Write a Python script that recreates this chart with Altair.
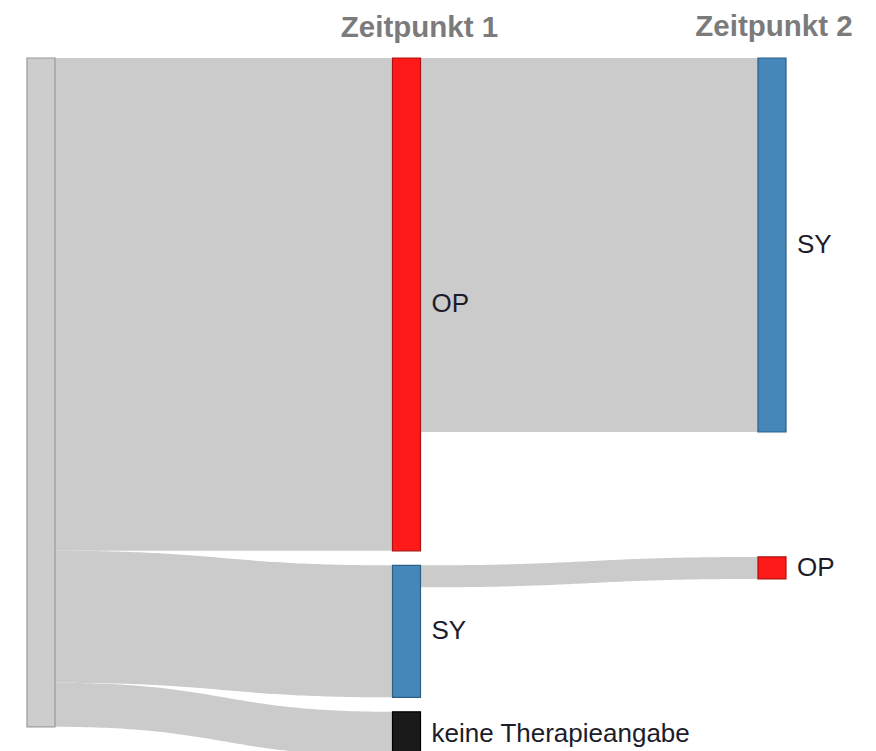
import altair as alt
import pandas as pd
import numpy as np

# ---------------- data ----------------
stage_titles = ["Zeitpunkt 1", "Zeitpunkt 2"]
title_stage = [1, 2]

node_ids = ["start", "t1_op", "t1_sy", "t1_none", "t2_sy", "t2_op"]
node_labels = ["", "OP", "SY", "keine Therapieangabe", "SY", "OP"]
node_stage = [0, 1, 1, 1, 2, 2]
node_colors = ["#cdcdcd", "#ff1a1a", "#4587b8", "#1a1a1a", "#4587b8", "#ff1a1a"]
node_strokes = ["#9a9a9a", "#b01010", "#2c5f85", "#000000", "#2c5f85", "#b01010"]

link_source = ["start", "start", "start", "t1_op", "t1_sy"]
link_target = ["t1_op", "t1_sy", "t1_none", "t2_sy", "t2_op"]
link_value = [112, 30, 10, 85, 5]

# ---------------- layout parameters ----------------
W, H = 860, 743
PX_PER_UNIT = 4.4
TOP_PX = 50            # distance of node tops from plot top
STAGE_PX = 365.5       # horizontal distance between stages
LEFT_PX = 19
NODE_W = 28 / STAGE_PX
column_gaps = {0: 0.0, 1: 3.3, 2: 28.4}
title_dx = [13, 2]
title_y = [-4.8, -5.1]

x_dom = [-LEFT_PX / STAGE_PX, -LEFT_PX / STAGE_PX + W / STAGE_PX]
y_dom = [-TOP_PX / PX_PER_UNIT, -TOP_PX / PX_PER_UNIT + H / PX_PER_UNIT]
xs = alt.Scale(domain=x_dom, nice=False, zero=False)
ys = alt.Scale(domain=y_dom, nice=False, zero=False, reverse=True)

# node sizes
size = {}
for n in node_ids:
    vin = sum(v for s, t, v in zip(link_source, link_target, link_value) if t == n)
    vout = sum(v for s, t, v in zip(link_source, link_target, link_value) if s == n)
    size[n] = max(vin, vout)

# node positions (stacked within column)
top = {}
col_cursor = {}
for n, st in zip(node_ids, node_stage):
    cur = col_cursor.get(st)
    if cur is None:
        top[n] = 0.0
    else:
        top[n] = cur + column_gaps[st]
    col_cursor[st] = top[n] + size[n]

stage_of = dict(zip(node_ids, node_stage))
nodes = pd.DataFrame({
    "id": node_ids,
    "label": node_labels,
    "x": [s for s in node_stage],
    "x2": [s + NODE_W for s in node_stage],
    "y": [top[n] for n in node_ids],
    "y2": [top[n] + size[n] for n in node_ids],
    "ym": [top[n] + size[n] / 2 for n in node_ids],
    "fill": node_colors,
    "stroke": node_strokes,
})

# link ribbons
out_off = {n: 0.0 for n in node_ids}
in_off = {n: 0.0 for n in node_ids}
rows = []
t = np.linspace(0, 1, 80)
for i, (s, tg, v) in enumerate(zip(link_source, link_target, link_value)):
    y0 = top[s] + out_off[s]
    y1 = top[tg] + in_off[tg]
    out_off[s] += v
    in_off[tg] += v
    x0 = stage_of[s] + NODE_W
    x1 = stage_of[tg]
    xx = x0 + (x1 - x0) * (1.5 * t - 1.5 * t ** 2 + t ** 3)
    yy = y0 + (y1 - y0) * (3 * t ** 2 - 2 * t ** 3)
    for a, b in zip(xx, yy):
        rows.append({"link": i, "x": a, "y": b, "y2": b + v})
links = pd.DataFrame(rows)

titles = pd.DataFrame({
    "title": stage_titles,
    "x": [s + NODE_W / 2 for s in title_stage],
    "y": title_y,
    "dx": title_dx,
})

link_layer = alt.Chart(links).mark_area(color="#cbcbcb", opacity=1).encode(
    x=alt.X("x:Q", scale=xs, axis=None),
    y=alt.Y("y:Q", scale=ys, axis=None),
    y2="y2:Q",
    detail="link:N",
)

node_layer = alt.Chart(nodes).mark_rect(strokeWidth=1.2).encode(
    x=alt.X("x:Q", scale=xs, axis=None),
    x2="x2:Q",
    y=alt.Y("y:Q", scale=ys, axis=None),
    y2="y2:Q",
    fill=alt.Fill("fill:N", scale=None),
    stroke=alt.Stroke("stroke:N", scale=None),
)

label_layer = alt.Chart(nodes).mark_text(
    align="left", baseline="middle", dx=11, fontSize=26,
    font="Liberation Sans", color="#1c1c2a"
).encode(
    x=alt.X("x2:Q", scale=xs, axis=None),
    y=alt.Y("ym:Q", scale=ys, axis=None),
    text="label:N",
)

title_layers = []
for i in range(len(stage_titles)):
    title_layers.append(
        alt.Chart(titles.iloc[[i]]).mark_text(
            align="center", baseline="alphabetic", fontSize=29.5, fontWeight="bold",
            font="Liberation Sans", color="#7b7b7b", dx=title_dx[i]
        ).encode(
            x=alt.X("x:Q", scale=xs, axis=None),
            y=alt.Y("y:Q", scale=ys, axis=None),
            text="title:N",
        )
    )

chart = alt.layer(link_layer, node_layer, label_layer, *title_layers).properties(
    width=W, height=H, padding=0,
    autosize=alt.AutoSizeParams(type="none"),
).configure_view(stroke=None)

chart.save("out.html", embed_options={"renderer": "svg", "actions": False})
